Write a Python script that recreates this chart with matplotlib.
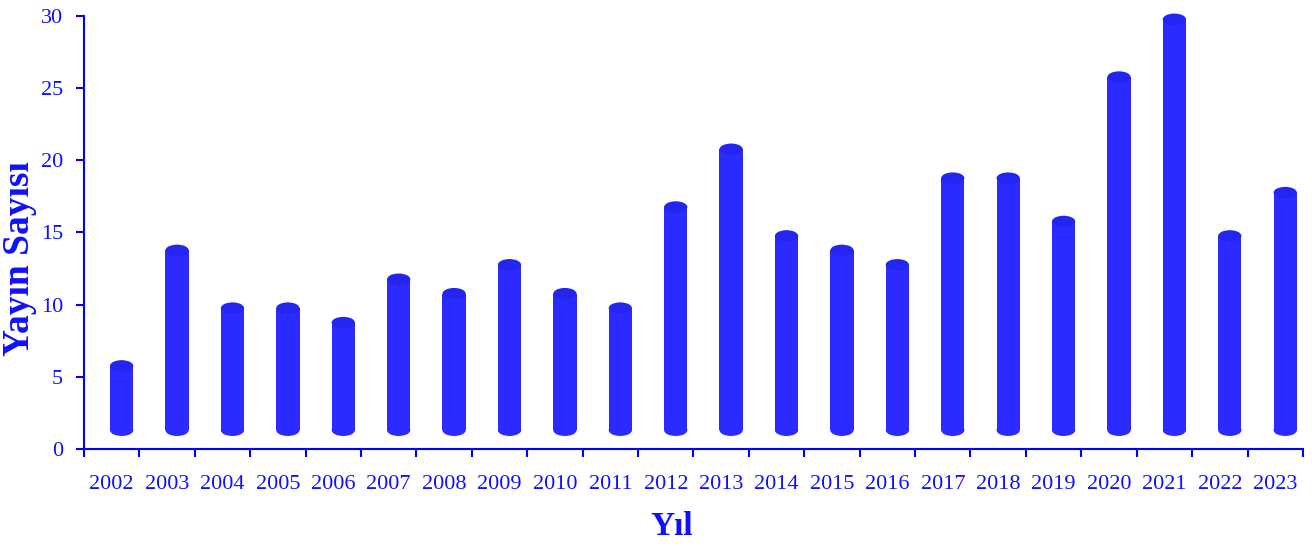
import matplotlib
matplotlib.use("Agg")
import matplotlib.pyplot as plt
from matplotlib.patches import Ellipse, Rectangle
from matplotlib.ticker import FixedLocator, NullFormatter

years = ["2002", "2003", "2004", "2005", "2006", "2007", "2008", "2009", "2010", "2011", "2012",
         "2013", "2014", "2015", "2016", "2017", "2018", "2019", "2020", "2021", "2022", "2023"]
counts = [6, 14, 10, 10, 9, 12, 11, 13, 11, 10, 17, 21, 15, 14, 13, 19, 19, 16, 26, 30, 15, 18]
y_ticks = [0, 5, 10, 15, 20, 25, 30]
x_title = "Yıl"
y_title = "Yayın Sayısı"

plt.rcParams['font.family'] = ['Liberation Serif', 'DejaVu Serif']
TXT = '#1010ff'
BAR = '#2b2bff'
CAP = '#2525f2'

fig = plt.figure(figsize=(13.12, 5.46), dpi=100)
ax = fig.add_axes([0.064, 0.1777, 0.9291, 0.7935])

n = len(years)
xs = list(range(n))
dx = 0.18      # 3D depth shift
w = 0.42
base = 0.9
cap = 0.8
lift = 0.15
for x, v in zip(xs, counts):
    cx = x + dx
    top = v + lift - cap / 2
    body = Rectangle((cx - w / 2, base + cap / 2), w, top - base - cap / 2, facecolor=BAR,
                     edgecolor='none', clip_on=False, zorder=3)
    ax.add_patch(body)
    ax.add_patch(Ellipse((cx, base + cap / 2), w, cap, facecolor=BAR, edgecolor='none',
                         clip_on=False, zorder=3))
    ax.add_patch(Ellipse((cx, top), w, cap, facecolor=CAP, edgecolor='none',
                         clip_on=False, zorder=4))

ax.set_xlim(-0.5, n - 0.5)
ax.set_ylim(0, 30)

for s in ['top', 'right']:
    ax.spines[s].set_visible(False)
for s in ['left', 'bottom']:
    ax.spines[s].set_color('blue')
    ax.spines[s].set_linewidth(1.5)

ax.set_xticks(xs)
ax.set_xticklabels(years)
ax.xaxis.set_minor_locator(FixedLocator([i - 0.5 for i in range(n + 1)]))
ax.xaxis.set_minor_formatter(NullFormatter())
ax.tick_params(axis='x', which='major', length=0, pad=19, labelsize=16, labelcolor=TXT)
ax.tick_params(axis='x', which='minor', length=6, width=1.5, color='blue', direction='out')
ax.set_yticks(y_ticks)
ax.tick_params(axis='y', length=6, width=1.5, color='blue', pad=9, labelsize=16, labelcolor=TXT)

ax.set_xlabel(x_title, fontsize=24, fontweight='bold', color=TXT)
ax.xaxis.set_label_coords(0.482, -0.18)
ax.xaxis.label.set_va('center')
ax.set_ylabel(y_title, fontsize=27, fontweight='bold', color=TXT)
ax.yaxis.set_label_coords(-0.0525, 0.44)
ax.yaxis.label.set_va('center')

fig.savefig("out.png", dpi=100)
